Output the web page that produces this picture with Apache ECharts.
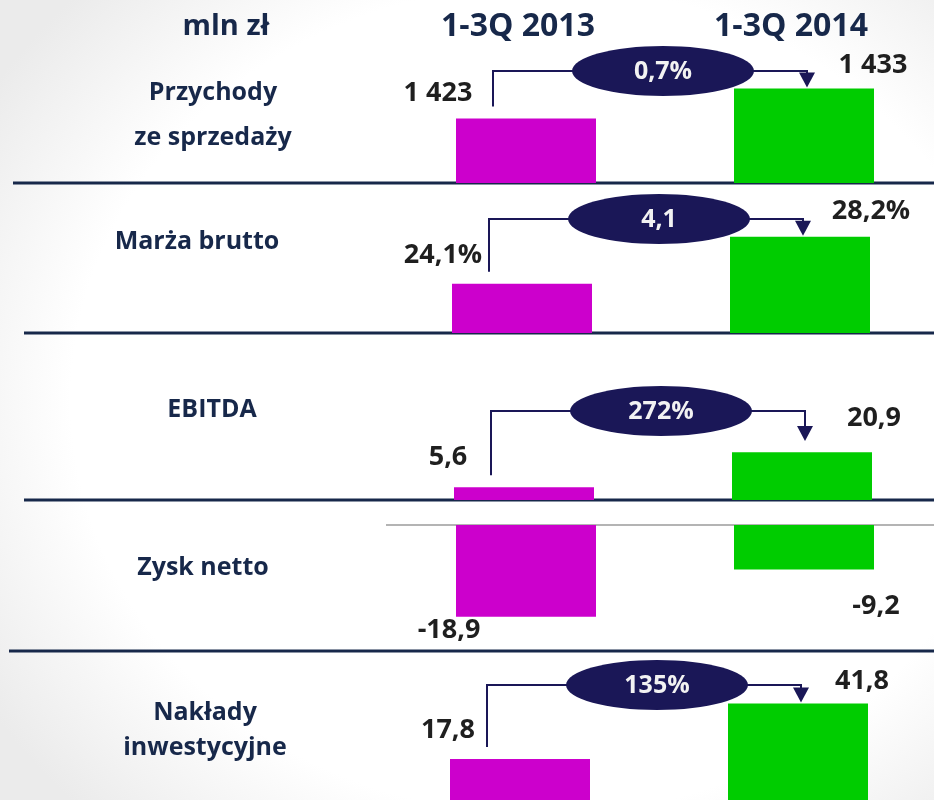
<!DOCTYPE html>
<html>
<head>
<meta charset="utf-8">
<script src="https://cdn.jsdelivr.net/npm/echarts@6/dist/echarts.min.js"></script>
<style>
    html, body { margin: 0; padding: 0; }
    body {
        width: 934px;
        height: 800px;
        background: radial-gradient(ellipse 70% 72% at 58% 50%, #ffffff 72%, #ebebeb 100%);
    }
    #chart { width: 934px; height: 800px; }
</style>
</head>
<body>
<div id="chart"></div>
<script>
// dane
const unitLabel = 'mln zł'
const periods = ['1-3Q 2013', '1-3Q 2014']
const metrics = ['Przychody\nze sprzedaży', 'Marża brutto', 'EBITDA', 'Zysk netto', 'Nakłady\ninwestycyjne']
const values2013 = [1423, 24.1, 5.6, -18.9, 17.8]
const values2014 = [1433, 28.2, 20.9, -9.2, 41.8]
const labels2013 = ['1 423', '24,1%', '5,6', '-18,9', '17,8']
const labels2014 = ['1 433', '28,2%', '20,9', '-9,2', '41,8']
const changes = ['0,7%', '4,1', '272%', null, '135%']

// wygląd
const FONT = '"Open Sans", "Noto Sans", sans-serif'
const NAVY = '#17284a'
const INK = '#1f1f1f'
const OVAL = '#1a1757'
const COLOR_2013 = '#cc00cc'
const COLOR_2014 = '#00cc00'

// każdy panel = osobny grid z własną skalą (grid od środka słupka 2013 do środka słupka 2014)
const panels = [
    { left: 526, top: 83, min: 1401.5, max: 1434.83, rowX: 213, rowY: 115, lh: 45, rise: 112, lineX: 13 },
    { left: 522, top: 233, min: 19.8, max: 28.526, rowX: 197, rowY: 242, lh: 30, rise: 114, lineX: 24 },
    { left: 524, top: 400, min: 0, max: 43.7, rowX: 212, rowY: 410, lh: 30, rise: 89, lineX: 24 },
    { left: 526, top: 525, min: -20.62, max: 0, rowX: 203, rowY: 568, lh: 30, zeroX: 386 },
    { left: 520, top: 701, min: 0, max: 42.86, rowX: 205, rowY: 730, lh: 35, rise: 115 }
]
const labelOffsets2013 = [[-88, -25], [-79, -28], [-76, -30], [-77, 14], [-72, -29]]
const labelOffsets2014 = [[69, -23], [71, -25], [72, -34], [72, 37], [64, -22]]

const valueLabel = (text, off, negative) => ({
    show: true,
    formatter: text,
    position: negative ? 'bottom' : 'top',
    distance: 0,
    offset: off,
    align: 'center',
    verticalAlign: 'middle',
    color: INK,
    fontFamily: FONT,
    fontWeight: 'bold',
    fontSize: 27
})

const option = {
    animation: false,
    grid: panels.map(p => ({ left: p.left, top: p.top, width: 278, height: 100 })),
    xAxis: panels.map((p, i) => ({
        type: 'category',
        gridIndex: i,
        data: periods,
        boundaryGap: false,
        axisLine: { show: false },
        axisTick: { show: false },
        axisLabel: { show: false },
        splitLine: { show: false }
    })),
    yAxis: panels.map((p, i) => ({
        type: 'value',
        gridIndex: i,
        min: p.min,
        max: p.max,
        startValue: Math.min(Math.max(0, p.min), p.max),
        show: false,
        splitLine: { show: false }
    })),
    series: panels.map((p, i) => ({
        type: 'bar',
        xAxisIndex: i,
        yAxisIndex: i,
        barWidth: 140,
        clip: false,
        z: 5,
        data: [
            {
                value: values2013[i],
                itemStyle: { color: COLOR_2013 },
                label: valueLabel(labels2013[i], labelOffsets2013[i], values2013[i] < 0)
            },
            {
                value: values2014[i],
                itemStyle: { color: COLOR_2014 },
                label: valueLabel(labels2014[i], labelOffsets2014[i], values2014[i] < 0)
            }
        ]
    }))
}

const chart = echarts.init(document.getElementById('chart'))
chart.setOption(option)

// adnotacje: nagłówki, opisy wierszy, linie, strzałki ze zmianą
const text = (x, y, str, size, color, lh) => ({
    type: 'text', x, y, z: 20,
    style: {
        text: str, fill: color, align: 'center', verticalAlign: 'middle',
        fontFamily: FONT, fontWeight: 'bold', fontSize: size, lineHeight: lh || size
    }
})

const g = []
g.push(text(226, 27, unitLabel, 29, NAVY))
g.push(text(518, 27, periods[0], 32, NAVY))
g.push(text(791, 27, periods[1], 32, NAVY))

panels.forEach((p, i) => {
    g.push(text(p.rowX, p.rowY, metrics[i], 25, NAVY, p.lh))

    const a = chart.convertToPixel({ gridIndex: i }, [0, values2013[i]])
    const b = chart.convertToPixel({ gridIndex: i }, [1, values2014[i]])
    const base = chart.convertToPixel({ gridIndex: i }, [0, Math.max(0, p.min)])[1]

    if (p.lineX !== undefined) {
        g.push({ type: 'line', z: 1, shape: { x1: p.lineX, y1: base, x2: 934, y2: base },
            style: { stroke: NAVY, lineWidth: 3 } })
    }
    if (p.zeroX !== undefined) {
        g.push({ type: 'line', z: 1, shape: { x1: p.zeroX, y1: base, x2: 934, y2: base },
            style: { stroke: '#b4b4b4', lineWidth: 2 } })
    }

    if (changes[i]) {
        const level = base - p.rise
        const xs = a[0] - 33
        const ax = b[0] + 3
        const tip = Math.min(b[1] - 1, level + 30)
        g.push({ type: 'polyline', z: 10,
            shape: { points: [[xs, a[1] - 12], [xs, level], [ax, level], [ax, tip - 14]] },
            style: { stroke: OVAL, lineWidth: 2, fill: null } })
        g.push({ type: 'polygon', z: 10,
            shape: { points: [[ax - 8, tip - 15], [ax + 8, tip - 15], [ax, tip]] },
            style: { fill: OVAL } })
        const cx = (a[0] + b[0]) / 2 - 2
        g.push({ type: 'ellipse', z: 11, shape: { cx, cy: level, rx: 91, ry: 25 },
            style: { fill: OVAL } })
        g.push(text(cx, level + 1, changes[i], 25, '#f2f2f2'))
    }
})

// separator między zyskiem netto a nakładami
g.push({ type: 'line', z: 1, shape: { x1: 9, y1: 651, x2: 934, y2: 651 },
    style: { stroke: NAVY, lineWidth: 3 } })

chart.setOption({ graphic: g })
</script>
</body>
</html>
